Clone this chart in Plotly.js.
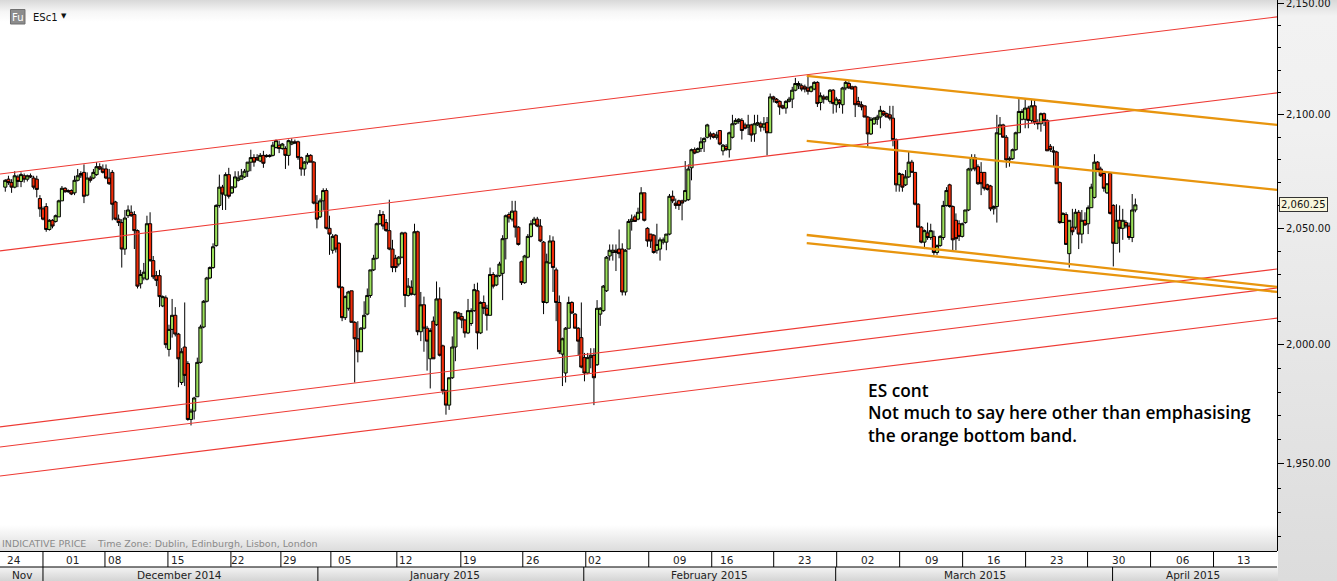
<!DOCTYPE html>
<html><head><meta charset="utf-8">
<script src="https://cdn.plot.ly/plotly-3.0.1.min.js"></script>
<style>
html,body{margin:0;padding:0;width:1337px;height:581px;overflow:hidden;background:#fff}
.bg{position:absolute}
#chart{position:absolute;left:0;top:0;width:1337px;height:581px}
</style></head><body>
<div class="bg" style="left:0;top:0;width:1278px;height:551px;background:linear-gradient(to bottom,#d8d8d8 0,#f6f6f6 12px,#fff 22px,#fff 525px,#dcdcdc 551px)"></div>
<div class="bg" style="left:1278px;top:0;width:59px;height:581px;background:linear-gradient(to bottom,#d8d8d8 0,#f2f2f2 16px,#f0f0f0 130px,#dcdcdc 581px)"></div>
<div class="bg" style="left:0;top:551px;width:1278px;height:16px;background:#fff"></div>
<div class="bg" style="left:0;top:567px;width:1278px;height:14px;background:linear-gradient(to bottom,#f4f4f4,#d4d4d4)"></div>
<div id="chart"></div>
<script>
const opens=[
2068,2071.5,2070,2068,2072.5,2070.5,2073,2071.5,2073,2072,
2071.5,2063,2058.5,2059.5,2049.5,2053.5,2053,2055,2062,2067.5,
2066.5,2066.5,2065.5,2071,2073,2074.5,2064.5,2072,2072,2073.5,
2077,2076,2076,2072,2074.5,2061.5,2054,2052.5,2041,2055.5,
2057,2056,2049,2026,2028.5,2028,2052,2036,2029.5,2029.5,
2016.5,2020,1998,2006.5,2012.5,2004.5,1984,1999,1992,1968.5,
1972,1978,1992.5,2007.5,2018.5,2028.5,2033,2042.5,2060,2068,
2064.5,2073.5,
2065.5,2068,2071,2071.5,2072.5,2075,2079,2081,2081,2079.5,
2082,2082,2081.5,2082,2085.5,2086.5,2085,2085,2082,2087,
2088,2088,2081,2076,2079,2082,2079,2061,2055,2062,
2066.5,2050,2040.5,2047,2043.5,2024.5,2011.5,2015.5,2023,2009.5,
2002.5,1997,2007,2013,2021,2032,2037,2052,2056,2052.5,
2049,2041,2037,2034.5,2037.5,2048,2021,2024.5,2021.5,2048.5,
2005.5,2017,2007,1994,2010,2008.5,2019.5,1999.5,1980.5,1974.5,
1986,1999,2013.5,
2012,2010.5,2005,2009,2014.5,2023,2005,2018,2015.5,2012.5,
2030,2025.5,2029.5,2030.5,2045.5,2056,2054,2057.5,2050.5,2035.5,
2026.5,2037.5,2046.5,2052,2054,2051,2044,2018,2035,2044.5,
2032,2018,1996,1988,2007,2018,2013,2007,2003,1994.5,
1988,1994.5,1995.5,1991.5,2013,2014.5,2023,2038,2039.5,2040.5,
2041,2041,2022.5,2041,2053,2055,2054,2057,2065.5,2050,
2047.5,2047,2040.5,2041,2044,2044,2047.5,2064,2061,2062,
2062,2062,2062.5,
2076.5,2084.5,2083.5,2085,2088,2090,2091.5,2091.5,2090,2093,
2084,2086,2084.5,2090,2096,2097,2097.5,2095.5,2094.5,2095.5,
2091.5,2095.5,2096,2094.5,2096.5,2092,2108,2107,2106,2104,
2103,2106,2107,2111,2113,2113,2112.5,2112,2110.5,2111.5,
2114.5,2105.5,2108,2107,2106,2111,2104.5,2106.5,2104.5,2112,
2114,2112.5,2112.5,2106,2104.5,2104,2099,2091.5,2096,2098,
2099,2101.5,2100.5,2100,2098.5,2089,2069,2073.5,2069,2072.5,
2079,2074.5,2060.5,2050.5,2044,2048,2046,2046.5,2039.5,2042.5,
2046,2060,2069,2059.5,2053.5,2052,2046.5,2052.5,2058,2076,
2081,2077,2074.5,2074.5,2069,2068.5,2058.5,2059.5,2091.5,2095.5,
2090,2080,2080.5,2084.5,2092,2098,2098,2103,2097.5,2104,
2096.5,2096,2100.5,2097.5,2086,2084,2083.5,2070,2052.5,2056,
2039,2050.5,2050.5,2057,2047.5,2053.5,2052,2059,2063.5,2079,
2076,2074,2065.5,2074,2060,2043.5,2053.5,2050,2052.5,2051,
2046,2058];
const highs=[
2071.5,2073,2071.5,2075,2073.5,2074.5,2074,2073.5,2074,2073,
2073,2064.5,2059.5,2061,2054,2054,2056,2062.5,2068.5,2068,
2067,2067,2073,2076,2075,2078,2074.5,2073,2076,2079,
2078.5,2078,2078,2076,2075.5,2062,2056,2054,2058,2060,
2060,2057.5,2049.5,2032,2035,2055.5,2057,2038,2031.5,2032,
2021,2021,2008.5,2019.5,2016,2005,1998.5,2018,1993,1973,
1978,1994.5,2008.5,2019,2029,2033.5,2043.5,2060.5,2073.5,2069,
2074.5,2076.5,
2068.5,2075,2075,2076,2076,2079,2084.5,2082.5,2082.5,2083,
2084,2082.5,2082.5,2088,2089,2088.5,2087.5,2086,2089,2089.5,
2089,2088.5,2081.5,2079.5,2083,2082.5,2079.5,2064.5,2063,2067.5,
2067.5,2055.5,2047.5,2047.5,2044,2025,2021,2023,2023,2010,
2010,2007.5,2018.5,2024,2032,2038.5,2052.5,2058,2057.5,2054,
2062.5,2045,2038.5,2038,2048.5,2048.5,2028.5,2027.5,2052,2049,
2022.5,2020.5,2008,2007,2012,2027,2024.5,2000,1981,1986,
2003.5,2014,2014,
2013.5,2011,2019.5,2015.5,2026,2026.5,2018.5,2021,2017,2033,
2031,2030,2035.5,2047,2056,2057,2062,2062,2051,2036,
2038.5,2047.5,2053.5,2055,2055,2054,2044.5,2039,2047,2046.5,
2033,2021,2003,2007.5,2020.5,2018.5,2013.5,2007.5,2018,1996.5,
1996.5,1998.5,1998.5,2019,2016,2025.5,2038,2043,2043,2043,
2049.5,2043.5,2041,2054,2056,2056,2059,2068,2065.5,2050.5,
2047.5,2047.5,2052,2046,2046,2047.5,2065,2066.5,2063,2062.5,
2062.5,2079.5,2078,
2085,2085.5,2085.5,2090,2090,2096,2092.5,2092,2092.5,2093,
2087,2087,2092.5,2100,2098.5,2098.5,2098.5,2096.5,2100,2096,
2100,2100,2097,2099,2099,2109.5,2108.5,2107.5,2106.5,2104.5,
2106.5,2108,2112.5,2116.5,2115,2114,2113.5,2118,2113,2115,
2115,2110,2109,2108.5,2111.5,2111.5,2108,2107,2112.5,2116,
2115,2113,2113,2108,2106,2104,2099.5,2099,2099,2100,
2104,2102,2101,2104,2104,2089.5,2074.5,2074,2075.5,2083.5,
2080,2074.5,2061,2051,2049.5,2052.5,2052,2049,2043,2047,
2062,2068,2069.5,2060,2056.5,2053.5,2052.5,2058,2076.5,2082.5,
2082.5,2078,2079,2074.5,2069.5,2069,2060,2100,2099,2096,
2091,2081.5,2085,2092.5,2107,2102.5,2107,2104,2107,2107,
2098,2101,2101,2098,2087,2086,2084,2070.5,2057,2057,
2053.5,2058.5,2058.5,2058,2058,2057,2060,2069.5,2082.5,2079.5,
2077,2074.5,2069.5,2074.5,2060.5,2060.5,2060,2058.5,2053.5,2052.5,
2065,2063];
const lows=[
2066,2069,2065.5,2067.5,2068,2068,2070,2070.5,2072,2067,
2063.5,2055,2053.5,2048.5,2049,2050,2052.5,2055,2062,2065.5,
2065.5,2064.5,2064.5,2070.5,2072,2061,2064,2070,2071.5,2073,
2075.5,2074,2071.5,2069,2053.5,2053.5,2051,2033,2038.5,2054.5,
2055,2041,2024,2024,2027.5,2027.5,2035.5,2028,2025,2016,
2016,1998.5,1995,2003,2003.5,1982,1983,1982.5,1968,1966,
1968.5,1978,1992,2007,2018,2028,2032.5,2042,2059,2058,
2058,2063,
2065,2067.5,2070.5,2071.5,2072,2072.5,2075,2077,2079.5,2079,
2076.5,2081,2081,2081.5,2085,2083,2084.5,2076,2077.5,2086.5,
2087,2080,2073,2073,2078,2079,2060.5,2050,2054.5,2058,
2049.5,2038.5,2039,2039.5,2024,2010,2010.5,2014.5,2009.5,1984,
1992.5,1997,2006.5,2012.5,2020,2031.5,2036.5,2051.5,2049.5,2048.5,
2040.5,2031,2031,2033.5,2037,2016,2020.5,2021,2021,2004,
2001.5,1997,1989,1981.5,1994,2008,1995,1979,1970.5,1972.5,
1985.5,1993,2011,
2007,2003,2004.5,2008,2014,1998,2004.5,2013,2006,2012.5,
2024,2025,2029,2019,2036.5,2052.5,2053,2046,2042.5,2025.5,
2026,2037,2046,2051.5,2050.5,2044,2013,2017.5,2034.5,2022.5,
2010,1996,1982.5,1984,2007,2013,2007,1995.5,1990,1984.5,
1987.5,1990,1974.5,1991,2008,2014,2022.5,2036,2036,2031.5,
2037,2021,2021,2041,2049,2053,2053.5,2056.5,2053,2042,
2041.5,2039,2039,2036,2043,2040.5,2047,2061,2058.5,2058,
2053.5,2061.5,2062,
2071,2082.5,2083,2083.5,2083.5,2089.5,2089,2089.5,2089,2086.5,
2082,2084,2081,2089.5,2095.5,2096,2089,2093.5,2091,2088,
2088,2095,2092.5,2093,2082,2092,2105.5,2105,2100,2102.5,
2100.5,2105.5,2103,2110.5,2111.5,2110.5,2110,2109,2110,2111,
2103.5,2102,2105,2106.5,2105,2100.5,2101,2103,2100.5,2111,
2111.5,2111.5,2099,2103.5,2102,2099,2086,2091,2095.5,2095.5,
2094,2099.5,2099,2097.5,2086,2066,2066,2066,2068.5,2072,
2074.5,2060,2050.5,2043.5,2041,2045,2045,2038.5,2038.5,2042,
2045,2059.5,2059,2040.5,2040.5,2044.5,2046,2052,2057.5,2075,
2075,2069,2064.5,2066.5,2066.5,2057.5,2056,2052.5,2091,2090,
2076.5,2077,2080,2084,2092,2097.5,2094,2094,2096.5,2095.5,
2093.5,2092.5,2095,2084,2083.5,2077,2069.5,2052,2052.5,2043,
2033,2047,2049.5,2041,2043.5,2051,2047.5,2059,2063,2075,
2072.5,2066,2065,2056,2033.5,2043.5,2039.5,2045,2050,2045,
2044,2057];
const closes=[
2071,2070,2068,2073,2070.5,2073.5,2071.5,2073,2072.5,2068,
2067,2058.5,2054,2049.5,2053.5,2051,2055.5,2062,2067.5,2066,
2066,2065,2071,2073,2074,2064,2072,2071,2074.5,2077,
2076,2074.5,2072,2069.5,2060.5,2054,2052.5,2041,2054.5,2058,
2055.5,2049,2025,2030,2031,2052,2036,2029,2027.5,2020.5,
2020.5,2000,2006.5,2012.5,2004.5,1994,1997,1987,1968.5,1972,
1977.5,1992.5,2007.5,2018.5,2028.5,2033,2042,2060,2068,2065,
2073.5,2064,
2068,2072.5,2072,2073,2075,2079,2081,2079,2080,2082,
2078.5,2081.5,2082,2086.5,2088.5,2085,2087,2082,2088.5,2088,
2087.5,2081,2076,2079,2082,2079,2061,2054,2062,2066.5,
2050,2047.5,2046.5,2041,2024.5,2011.5,2020.5,2022.5,2009.5,2002.5,
1997,2007,2012.5,2021,2032,2037,2052,2056,2051,2049,
2041,2033,2033,2037.5,2048,2021,2025,2021.5,2048.5,2005.5,
2017,2007,2001.5,2006,1994,2019.5,1995.5,1980.5,1974.5,1986,
1999,2014,2011,
2010.5,2005,2014.5,2014.5,2023.5,2005,2018,2015.5,2012.5,2030,
2025,2029.5,2034.5,2045.5,2055.5,2054.5,2057.5,2050.5,2043,2026.5,
2038,2046.5,2052,2054,2051,2044.5,2018,2035.5,2044.5,2033,
2018,1997,2002.5,2007,2018,2013.5,2007,2001.5,1990.5,1988,
1994.5,1995.5,1986,2015.5,2015.5,2025,2037.5,2040.5,2040.5,2039.5,
2039,2022.5,2040.5,2053,2054,2053,2057,2065.5,2053.5,2044.5,
2044.5,2039.5,2043,2045,2045,2047.5,2064,2062,2060,2060,
2061,2066.5,2076,
2084.5,2083,2085,2088,2089.5,2095.5,2090.5,2090,2091,2087,
2086.5,2084.5,2092,2096,2097.5,2098,2093,2094,2095.5,2091,
2096,2096.5,2094.5,2096,2092,2108,2107,2105.5,2103.5,2103,
2106,2107,2111,2114,2114,2111.5,2111.5,2110.5,2112.5,2114.5,
2105,2108.5,2107,2108,2111,2105,2107,2105,2112,2114.5,
2112,2111.5,2104.5,2104.5,2103.5,2099,2091.5,2098,2098.5,2099,
2102,2100,2099,2098.5,2089,2069,2074,2068,2072.5,2079,
2074.5,2060.5,2050.5,2044,2049,2046,2049,2039.5,2042.5,2046.5,
2060,2066.5,2059.5,2045,2045.5,2046.5,2052,2058,2076,2081,
2076,2069.5,2069.5,2067.5,2067,2058.5,2059.5,2092,2095.5,2090,
2080,2080.5,2084.5,2092,2101.5,2101.5,2103,2097.5,2104,2096.5,
2096,2100.5,2097.5,2084,2084.5,2083.5,2069.5,2052.5,2056.5,2043,
2053.5,2048.5,2057,2047.5,2053.5,2051.5,2059,2068,2079,2075.5,
2073,2067.5,2069.5,2056.5,2043.5,2053.5,2050,2053.5,2051,2046,
2058,2060.25];

// trend lines: bar index and price at each end
const redStartBar=-1.68, redEndBar=404;
const redStarts=[2073.8,2040.2,1965.4,1957,1945];
const redEnds=[2144.1,2109.8,2032.4,2024.2,2011.3];
const orangeStartBar=254.6, orangeEndBar=404;
const orangeStarts=[2117.4,2088.4,2047.1,2043.6];
const orangeEnds=[2095.5,2066.8,2024.7,2022.5];

const majorPrices=[1950,2000,2050,2100,2150];
const majorLabels=["1,950.00","2,000.00","2,050.00","2,100.00","2,150.00"];
const minorPrices=[1920,1930,1940,1960,1970,1980,1990,2010,2020,2030,2040,2060,2070,2080,2090,2110,2120,2130,2140];

const weekLabels=["24","01","08","15","22","29","05","12","19","26","02","09","16","23","02","09","16","23","30","06","13"];
const weekLabelPx=[14,73,115,178,238,290,345,406,470,533,595,680,727,805,868,932,994,1057,1119,1183,1244];
const weekEdgePx=[43,105,168,231,281,331,397,461,523,586,649,712,774,837,900,963,1026,1088,1151,1214];
const monthLabels=["Nov","December 2014","January 2015","February 2015","March 2015","April 2015"];
const monthLabelPx=[23,180,445,710,975,1193];
const monthEdgePx=[43,318,584,836,1113];
const noteLines=["ES cont","Not much to say here other than emphasising","the orange bottom band."];

const W=1277.5,H=551;
const px=x=>x/W, py=y=>1-y/H;
const txt=(text,x,y,size,color,anchor,extra)=>Object.assign({text,xref:'paper',yref:'paper',x:px(x),y:py(y),xanchor:anchor||'center',yanchor:'middle',showarrow:false,align:'left',font:{family:'DejaVu Sans',size,color}},extra||{});

const bars=opens.map((_,i)=>i);
const traces=[{
  type:'candlestick',x:bars,open:opens,high:highs,low:lows,close:closes,
  whiskerwidth:0,hoverinfo:'skip',
  increasing:{line:{color:'#000',width:1},fillcolor:'#9be05a'},
  decreasing:{line:{color:'#000',width:1},fillcolor:'#f22c08'}
}];
redStarts.forEach((s,i)=>traces.push({type:'scatter',mode:'lines',x:[redStartBar,redEndBar],y:[s,redEnds[i]],line:{color:'#ee3a34',width:1.1},hoverinfo:'skip'}));
orangeStarts.forEach((s,i)=>traces.push({type:'scatter',mode:'lines',x:[orangeStartBar,orangeEndBar],y:[s,orangeEnds[i]],line:{color:'#e8950e',width:2.3},hoverinfo:'skip'}));

const line=(x0,y0,x1,y1,c)=>({type:'line',xref:'paper',yref:'paper',x0:px(x0),x1:px(x1),y0:py(y0),y1:py(y1),line:{color:c||'#000',width:1}});
const shapes=[line(0,551.5,W,551.5),line(0,567,W,567)];
weekEdgePx.forEach(e=>shapes.push(line(e,551,e,567)));
monthEdgePx.forEach(e=>shapes.push(line(e,567,e,581)));
shapes.push({type:'rect',xref:'paper',yref:'paper',x0:px(10.5),x1:px(25),y0:py(24),y1:py(9.5),fillcolor:'#8c8c8c',line:{color:'#6f6f6f',width:1}});

const annotations=[];
weekLabels.forEach((t,i)=>annotations.push(txt(t,weekLabelPx[i],559.5,10.5,'#222')));
monthLabels.forEach((t,i)=>annotations.push(txt(t,monthLabelPx[i],574.5,10.5,'#222')));
annotations.push({text:noteLines.join('<br>'),xref:'paper',yref:'paper',x:px(866),y:py(413),xanchor:'left',yanchor:'middle',align:'left',showarrow:false,font:{family:'Open Sans',size:17.3,color:'#000',weight:600}});
annotations.push(txt('Fu',17.7,17,10,'#fff'));
annotations.push(txt('ESc1',31,17,10,'#111','left'));
annotations.push(txt('▼',64,16,7,'#111'));
annotations.push(txt('INDICATIVE PRICE',0,543.5,9.5,'#8a8a8a','left'));
annotations.push(txt('Time Zone: Dublin, Edinburgh, Lisbon, London',95,543.5,9.5,'#8a8a8a','left'));
annotations.push(txt('2,060.25',1304,204.5,10,'#111','center',{bgcolor:'#f8f6dc',bordercolor:'#333',borderwidth:1,borderpad:1}));

const layout={
  width:1337,height:581,margin:{l:0,r:59.5,t:0,b:30,pad:0},
  paper_bgcolor:'rgba(0,0,0,0)',plot_bgcolor:'rgba(0,0,0,0)',
  showlegend:false,boxgap:0,boxgroupgap:0,
  xaxis:{range:[-1.68,404],showticklabels:false,ticks:'',showgrid:false,zeroline:false,showline:false,rangeslider:{visible:false},fixedrange:true},
  yaxis:{type:'log',side:'right',range:[Math.log10(1914.3),Math.log10(2151.8)],tickmode:'array',tickvals:majorPrices,ticktext:majorLabels,
    ticks:'outside',ticklen:6,tickcolor:'#000',showline:true,linecolor:'#000',linewidth:1,showgrid:false,zeroline:false,fixedrange:true,
    ticklabeloverflow:'allow',
    tickfont:{family:'DejaVu Sans',size:10,color:'#111'},
    minor:{tickmode:'array',tickvals:minorPrices,ticks:'outside',ticklen:3,tickcolor:'#000',showgrid:false}},
  shapes,annotations
};
Plotly.newPlot('chart',traces,layout,{displayModeBar:false,staticPlot:true});
</script>
</body></html>
